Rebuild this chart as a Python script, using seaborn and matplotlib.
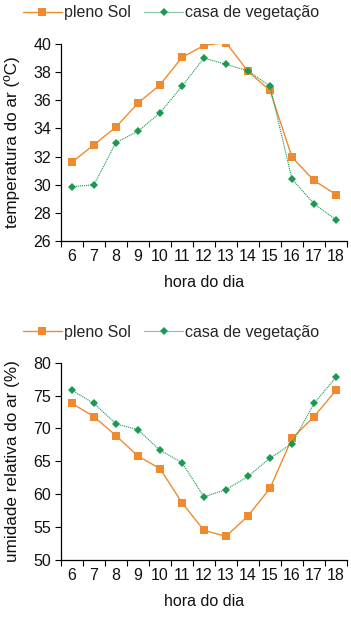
import matplotlib
matplotlib.use("Agg")
import matplotlib.pyplot as plt
import seaborn as sns
import pandas as pd
from matplotlib.ticker import FixedLocator

hours = [6, 7, 8, 9, 10, 11, 12, 13, 14, 15, 16, 17, 18]
temp_sol = [31.6, 32.85, 34.1, 35.8, 37.1, 39.05, 39.9, 40.1, 38.05, 36.7, 31.95, 30.3, 29.3]
temp_casa = [29.85, 30.0, 33.0, 33.8, 35.1, 37.0, 39.0, 38.55, 38.1, 37.0, 30.4, 28.65, 27.5]
ur_sol = [73.8, 71.8, 68.9, 65.8, 63.9, 58.7, 54.5, 53.6, 56.7, 60.9, 68.5, 71.8, 75.8]
ur_casa = [75.8, 73.8, 70.7, 69.8, 66.7, 64.8, 59.6, 60.7, 62.7, 65.5, 67.7, 73.8, 77.8]
series_names = ["pleno Sol", "casa de vegetação"]
temp_ticks = [26, 28, 30, 32, 34, 36, 38, 40]
ur_ticks = [50, 55, 60, 65, 70, 75, 80]

sns.set_style("white")
plt.rcParams['font.family'] = ['Liberation Sans', 'DejaVu Sans']

ORANGE = "#F08A2E"
GREEN = "#1A9A50"
TXT = "#111111"

fig = plt.figure(figsize=(3.51, 6.17), dpi=100)
W, H = 351, 617

def make_axes(top_px, bottom_px):
    left, right = 61, 347
    return fig.add_axes([left / W, 1 - bottom_px / H, (right - left) / W, (bottom_px - top_px) / H])

ax1 = make_axes(44, 241)
ax2 = make_axes(362.7, 560)

def draw(ax, sol, casa, ticks, ylabel, legend_y):
    df = pd.DataFrame({"hora": hours, "sol": sol, "casa": casa})
    sns.lineplot(data=df, x="hora", y="sol", ax=ax, color=ORANGE, marker="s",
                 markersize=5.7, markeredgewidth=0, linewidth=1.0, label=series_names[0])
    sns.lineplot(data=df, x="hora", y="casa", ax=ax, color=GREEN, marker="D",
                 markersize=3.8, markeredgewidth=0, linewidth=0.8, linestyle=(0, (1, 0.8)),
                 label=series_names[1])
    ax.set_xlim(5.5, 18.5)
    ax.set_ylim(ticks[0], ticks[-1])
    ax.set_yticks(ticks)
    ax.set_xticks(hours)
    ax.xaxis.set_minor_locator(FixedLocator([h + 0.5 for h in [5] + hours]))
    ax.tick_params(axis="x", which="major", length=0, pad=6, labelsize=11.5, colors=TXT)
    ax.tick_params(axis="x", which="minor", length=4, width=0.8, direction="out", color="black", bottom=True)
    ax.tick_params(axis="y", which="major", length=4, width=0.8, direction="out", color="black",
                   left=True, pad=3, labelsize=11.5, labelcolor=TXT)
    for s in ["top", "right"]:
        ax.spines[s].set_visible(False)
    for s in ["left", "bottom"]:
        ax.spines[s].set_color("black")
        ax.spines[s].set_linewidth(0.9)
    ax.set_xlabel("hora do dia", fontsize=11.5, color=TXT, labelpad=8)
    ax.set_ylabel(ylabel, fontsize=12.3, color=TXT)
    ax.yaxis.set_label_coords(-0.145, 0.5)
    ax.grid(False)
    handles, labels = ax.get_legend_handles_labels()
    ax.legend(handles, labels, loc="center", bbox_to_anchor=(0.487, legend_y),
              bbox_transform=fig.transFigure, ncol=2, frameon=False, fontsize=11.5,
              handlelength=2.5, handletextpad=0.1, columnspacing=0.8, borderpad=0)

draw(ax1, temp_sol, temp_casa, temp_ticks, "temperatura do ar (ºC)", 1 - 13 / H)
draw(ax2, ur_sol, ur_casa, ur_ticks, "umidade relativa do ar (%)", 1 - 332 / H)

fig.savefig("out.png", dpi=100)
